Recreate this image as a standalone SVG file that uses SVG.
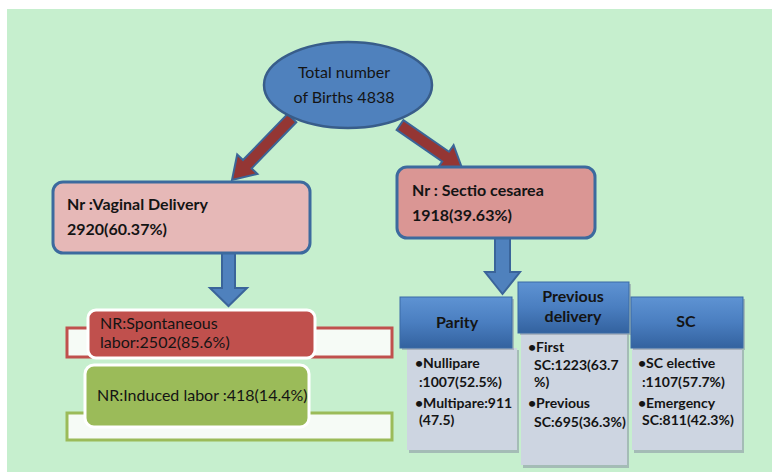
<svg xmlns="http://www.w3.org/2000/svg" width="772" height="472" viewBox="0 0 772 472">
<defs>
<linearGradient id="hdr" x1="0" y1="0" x2="0" y2="1">
<stop offset="0" stop-color="#5E93D3"/>
<stop offset="0.5" stop-color="#4A7EC0"/>
<stop offset="1" stop-color="#33629F"/>
</linearGradient>
<style>
text{font-family:Lato,"Liberation Sans",sans-serif;fill:#141414}
.b{font-weight:bold}
.t15{font-size:15px}
.t14{font-size:14px}
.t16{font-size:16px}
.redarrow{fill:#943634;stroke:#3B6597;stroke-width:2;stroke-linejoin:miter}
.bluearrow{fill:#4F81BD;stroke:#3A649A;stroke-width:2}
.box{stroke:#3C6A9E;stroke-width:3}
.hdr{fill:url(#hdr);stroke:#3A6AA5;stroke-width:1}
.body{fill:#CDD5E1}
.shadow{fill:#8E9AA6;opacity:0.6}
</style>
</defs>
<rect x="0" y="0" width="772" height="472" fill="#FFFFFF"/>
<rect x="7" y="9" width="765" height="463" fill="#C6EFCE"/>

<g id="connectors">
<polygon class="redarrow" points="296.3,122.2 251.6,168.4 257.4,173.9 232,180 237.2,154.5 243,160 287.7,113.8"/>
<polygon class="redarrow" points="396.6,129.9 442.2,161.5 437.6,168.1 462,168 453.6,145.1 449,151.7 403.4,120.1"/>
<polygon class="bluearrow" points="222,253 235,253 235,288 247,288 228.5,306 210,288 222,288"/>
<polygon class="bluearrow" points="495,238 510,238 510,272 520,272 502.5,294 485,272 495,272"/>
</g>

<g id="total">
<ellipse cx="348" cy="85" rx="84" ry="43" fill="#4F81BD" stroke="#385D8A" stroke-width="2.5"/>
<text class="t16" x="344" y="78" text-anchor="middle">Total number</text>
<text class="t16" x="344" y="103" text-anchor="middle">of Births 4838</text>
</g>

<g id="vaginal">
<rect class="box" x="53" y="182" width="257" height="71" rx="10" fill="#E6B8B7"/>
<text class="t16 b" x="67" y="210">Nr :Vaginal Delivery</text>
<text class="t16 b" x="67" y="235">2920(60.37%)</text>
</g>

<g id="sectio">
<rect class="box" x="397" y="167" width="198" height="71" rx="10" fill="#DA9694"/>
<text class="t16 b" x="412" y="196">Nr : Sectio cesarea</text>
<text class="t16 b" x="412" y="221">1918(39.63%)</text>
</g>

<g id="spontaneous">
<rect x="67" y="328" width="325" height="29" fill="#F6FBF6" stroke="#C0504D" stroke-width="3"/>
<rect x="88" y="310" width="227" height="48" rx="8" fill="#C0504D" stroke="#FFFFFF" stroke-width="3"/>
<text class="t16" x="100" y="329">NR:Spontaneous</text>
<text class="t16" x="100" y="348">labor:2502(85.6%)</text>
</g>

<g id="induced">
<rect x="67" y="413" width="325" height="27" fill="#F6FBF6" stroke="#9BBB59" stroke-width="3"/>
<rect x="85" y="365" width="224" height="62" rx="9" fill="#9BBB59" stroke="#FFFFFF" stroke-width="3"/>
<text class="t16" x="97" y="401">NR:Induced labor :418(14.4%)</text>
</g>

<g id="parity">
<rect class="shadow" x="409" y="350" width="110" height="103"/>
<rect class="body" x="407" y="348" width="110" height="102"/>
<rect class="shadow" x="402" y="299" width="112" height="51"/>
<rect class="hdr" x="400" y="297" width="112" height="51"/>
<text class="t16 b" x="457" y="328" text-anchor="middle">Parity</text>
<text class="t14 b" x="415" y="368">•Nullipare</text>
<text class="t14 b" x="419" y="387">:1007(52.5%)</text>
<text class="t14 b" x="415" y="408">•Multipare:911</text>
<text class="t14 b" x="419" y="425">(47.5)</text>
</g>

<g id="previous">
<rect class="shadow" x="523" y="334" width="106" height="134"/>
<rect class="body" x="521" y="332" width="106" height="133"/>
<rect class="shadow" x="520" y="284" width="111" height="51"/>
<rect class="hdr" x="518" y="282" width="111" height="51"/>
<text class="t16 b" x="573" y="302" text-anchor="middle">Previous</text>
<text class="t16 b" x="573" y="322" text-anchor="middle">delivery</text>
<text class="t14 b" x="528" y="352">•First</text>
<text class="t14 b" x="534" y="370">SC:1223(63.7</text>
<text class="t14 b" x="534" y="387">%)</text>
<text class="t14 b" x="528" y="408">•Previous</text>
<text class="t14 b" x="534" y="427">SC:695(36.3%)</text>
</g>

<g id="sc">
<rect class="shadow" x="634" y="350" width="110" height="103"/>
<rect class="body" x="632" y="348" width="110" height="102"/>
<rect class="shadow" x="633" y="299" width="112" height="51"/>
<rect class="hdr" x="631" y="297" width="112" height="51"/>
<text class="t16 b" x="686" y="327" text-anchor="middle">SC</text>
<text class="t14 b" x="638" y="368">•SC elective</text>
<text class="t14 b" x="642" y="387">:1107(57.7%)</text>
<text class="t14 b" x="638" y="408">•Emergency</text>
<text class="t14 b" x="642" y="425">SC:811(42.3%)</text>
</g>
</svg>
